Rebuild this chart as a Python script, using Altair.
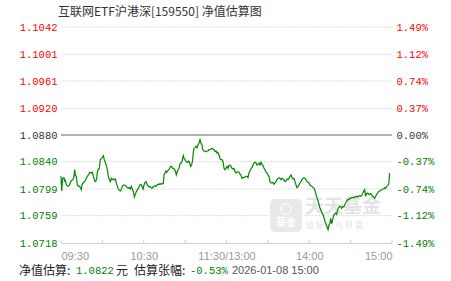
import altair as alt
import pandas as pd

# ---------------- data ----------------
minutes = [
    0, 0.5, 1.2, 2.2, 2.7, 3.1, 3.9, 5.1, 6.3, 7.0,
    8.0, 8.7, 9.4, 9.9, 10.4, 11.1, 11.8, 12.8, 13.5, 14.3,
    14.7, 15.2, 16.0, 17.2, 18.4, 19.1, 20.1, 20.8, 22.0, 22.7,
    23.5, 24.4, 25.1, 25.9, 26.4, 27.1, 27.8, 28.5, 29.3, 30.0,
    30.7, 31.4, 32.2, 32.9, 33.6, 34.3, 35.1, 35.8, 36.5, 37.2,
    38.0, 38.7, 39.4, 40.1, 40.9, 41.6, 42.3, 43.0, 43.8, 44.5,
    45.2, 45.9, 46.7, 47.4, 48.1, 48.8, 49.6, 50.3, 51.0, 51.7,
    52.5, 53.2, 53.9, 54.6, 55.4, 56.1, 56.8,
    57.3, 58.0, 58.7, 59.5, 60.2, 60.9, 61.6, 62.4, 63.1, 63.8,
    64.5, 65.3, 66.0, 66.7, 67.4, 68.2, 68.9, 69.6, 70.3, 71.1,
    71.8, 72.5, 73.2, 74.2, 74.7, 75.4, 76.1, 76.6, 77.3, 78.1,
    78.8, 79.5, 80.2, 81.0, 81.7, 82.4, 83.1, 83.6, 84.1, 84.8,
    85.6, 86.3, 87.0, 87.7, 88.2, 88.7, 89.2, 89.7, 90.4, 91.1,
    91.8, 92.6, 93.3, 94.0, 94.7, 95.5, 96.0, 96.4, 97.2, 97.9,
    98.6, 99.3, 100.1, 100.8, 101.5, 102.2, 102.7, 103.4, 104.4, 105.1,
    105.9, 106.6, 107.3, 108.0, 108.8, 109.5, 110.2, 110.9, 111.7, 112.4,
    113.1, 113.8, 114.6, 115.3, 116.0,
    116.7, 117.5, 118.2, 118.9, 119.6, 120.4, 121.1, 121.8, 122.5, 123.3,
    124.0, 124.7, 125.4, 126.2, 126.9, 127.6, 128.3, 129.1, 129.8, 130.5,
    131.2, 132.0, 132.7, 133.4, 134.1, 134.9, 135.6, 136.3, 137.0, 137.8,
    138.5, 139.2, 139.9, 140.7, 141.4, 142.1, 142.8, 143.6, 144.3, 145.0,
    145.7, 146.5, 147.2, 147.9, 148.6, 149.4, 150.1, 150.8, 151.5, 152.3,
    153.0, 153.7, 154.4, 155.2, 155.9, 156.6, 157.3, 158.1, 158.8, 159.5,
    160.2, 161.0, 161.7, 162.4, 163.1, 163.9, 164.6, 165.3, 166.0, 166.8,
    167.5, 168.2, 168.9, 169.7, 170.4, 171.1, 171.8, 172.6, 173.3, 174.0,
    174.7, 175.5,
    176.2, 176.9, 177.6, 178.4, 179.1, 179.8, 180.5, 181.3, 182.0, 182.7,
    183.5, 184.2, 184.9, 185.6, 186.4, 187.1, 187.8, 188.5, 189.3, 190.0,
    190.7, 191.4, 192.2, 192.9, 193.6, 194.3, 195.1, 195.5, 196.3, 197.0,
    197.7, 198.4, 199.2, 199.9, 200.6, 201.3, 202.1, 202.8, 203.5, 204.2,
    205.0, 205.7, 206.4, 207.1, 207.9, 208.6, 209.3, 210.0, 210.8, 211.5,
    212.2, 212.9, 213.7, 214.4, 215.1, 215.8, 216.6, 217.3, 218.0, 218.7,
    219.5, 220.2, 220.9, 221.6, 222.4, 223.1, 223.8, 224.5, 225.3, 226.0,
    226.7, 227.4, 228.2, 228.9, 229.6, 230.3, 231.1, 231.8, 232.5, 233.2,
    234.0, 234.7, 235.4, 236.1, 236.9, 237.6, 238.3,
]
nav = [
    1.0818, 1.0796, 1.0815, 1.0816, 1.0810, 1.0813, 1.0805, 1.0803, 1.0805, 1.0810,
    1.0812, 1.0813, 1.0817, 1.0828, 1.0820, 1.0818, 1.0805, 1.0803, 1.0803, 1.0800,
    1.0798, 1.0805, 1.0808, 1.0810, 1.0815, 1.0818, 1.0821, 1.0824, 1.0823, 1.0824,
    1.0818, 1.0811, 1.0810, 1.0815, 1.0825, 1.0829, 1.0830, 1.0843, 1.0845, 1.0846,
    1.0849, 1.0843, 1.0838, 1.0834, 1.0828, 1.0818, 1.0813, 1.0810, 1.0815, 1.0813,
    1.0814, 1.0813, 1.0814, 1.0808, 1.0803, 1.0799, 1.0797, 1.0796, 1.0799, 1.0803,
    1.0805, 1.0805, 1.0804, 1.0803, 1.0801, 1.0800, 1.0801, 1.0799, 1.0803, 1.0799,
    1.0795, 1.0787, 1.0791, 1.0795, 1.0798, 1.0800, 1.0803,
    1.0805, 1.0806, 1.0803, 1.0799, 1.0805, 1.0809, 1.0810, 1.0806, 1.0804, 1.0802,
    1.0803, 1.0801, 1.0800, 1.0802, 1.0803, 1.0804, 1.0803, 1.0805, 1.0806, 1.0806,
    1.0807, 1.0806, 1.0807, 1.0807, 1.0820, 1.0823, 1.0826, 1.0824, 1.0826, 1.0828,
    1.0830, 1.0833, 1.0833, 1.0830, 1.0830, 1.0828, 1.0825, 1.0820, 1.0823, 1.0828,
    1.0830, 1.0837, 1.0838, 1.0840, 1.0845, 1.0849, 1.0845, 1.0844, 1.0841, 1.0840,
    1.0839, 1.0841, 1.0838, 1.0833, 1.0835, 1.0843, 1.0855, 1.0860, 1.0861, 1.0863,
    1.0861, 1.0865, 1.0868, 1.0873, 1.0868, 1.0865, 1.0859, 1.0856, 1.0856, 1.0855,
    1.0856, 1.0856, 1.0858, 1.0858, 1.0859, 1.0860, 1.0859, 1.0858, 1.0855, 1.0856,
    1.0853, 1.0854, 1.0850, 1.0844, 1.0843,
    1.0843, 1.0840, 1.0830, 1.0828, 1.0830, 1.0833, 1.0830, 1.0834, 1.0835, 1.0833,
    1.0830, 1.0829, 1.0830, 1.0825, 1.0823, 1.0824, 1.0825, 1.0824, 1.0821, 1.0820,
    1.0815, 1.0816, 1.0816, 1.0817, 1.0818, 1.0818, 1.0816, 1.0823, 1.0826, 1.0830,
    1.0831, 1.0835, 1.0838, 1.0839, 1.0838, 1.0835, 1.0836, 1.0838, 1.0835, 1.0839,
    1.0836, 1.0834, 1.0830, 1.0828, 1.0825, 1.0823, 1.0820, 1.0818, 1.0810, 1.0808,
    1.0808, 1.0809, 1.0806, 1.0808, 1.0810, 1.0813, 1.0815, 1.0816, 1.0815, 1.0813,
    1.0815, 1.0814, 1.0813, 1.0810, 1.0811, 1.0814, 1.0813, 1.0815, 1.0818, 1.0820,
    1.0816, 1.0814, 1.0815, 1.0810, 1.0805, 1.0801, 1.0803, 1.0805, 1.0808, 1.0810,
    1.0813, 1.0815,
    1.0816, 1.0815, 1.0813, 1.0810, 1.0809, 1.0808, 1.0805, 1.0804, 1.0803, 1.0801,
    1.0800, 1.0796, 1.0791, 1.0786, 1.0781, 1.0776, 1.0770, 1.0767, 1.0763, 1.0761,
    1.0756, 1.0750, 1.0746, 1.0742, 1.0738, 1.0745, 1.0748, 1.0755, 1.0747, 1.0753,
    1.0760, 1.0761, 1.0763, 1.0761, 1.0768, 1.0771, 1.0773, 1.0772, 1.0770, 1.0773,
    1.0772, 1.0775, 1.0778, 1.0781, 1.0783, 1.0783, 1.0785, 1.0785, 1.0786, 1.0786,
    1.0787, 1.0786, 1.0788, 1.0788, 1.0787, 1.0788, 1.0789, 1.0788, 1.0789, 1.0792,
    1.0796, 1.0798, 1.0788, 1.0792, 1.0793, 1.0791, 1.0791, 1.0792, 1.0790, 1.0788,
    1.0787, 1.0785, 1.0788, 1.0791, 1.0793, 1.0795, 1.0796, 1.0797, 1.0798, 1.0799,
    1.0799, 1.0801, 1.0800, 1.0803, 1.0804, 1.0806, 1.0823,
]

nav_ticks = [1.0718, 1.0759, 1.0799, 1.0840, 1.0880, 1.0920, 1.0961, 1.1001, 1.1042]
pct_labels = ["-1.49%", "-1.12%", "-0.74%", "-0.37%", "0.00%", "0.37%", "0.74%", "1.12%", "1.49%"]
time_ticks = [0, 30, 60, 90, 120, 150, 180, 210, 240]
time_labels = ["09:30", "", "10:30", "", "11:30/13:00", "", "14:00", "", "15:00"]
base_nav = 1.0880

title_text = "互联网ETF沪港深[159550] 净值估算图"
foot_label1 = "净值估算:"
foot_nav = "1.0822"
foot_unit = "元"
foot_label2 = "估算张幅:"
foot_pct = "-0.53%"
foot_stamp = "2026-01-08  15:00"

# ---------------- layout ----------------
W, H = 331, 216
PAD = {"left": 61, "top": 27, "right": 59, "bottom": 38}
GREEN = "#008800"
ydom = [nav_ticks[0], nav_ticks[-1]]


def js_arr(xs):
    return "[" + ",".join(repr(x) if not isinstance(x, str) else "'" + x + "'" for x in xs) + "]"


color_expr = (
    f"datum.value > {base_nav + 0.00005} ? '#ff0000' : "
    f"(datum.value < {base_nav - 0.00005} ? '#008000' : '#333333')"
)
pct_expr = f"{js_arr(pct_labels)}[indexof({js_arr(nav_ticks)}, datum.value)]"
time_expr = f"{js_arr(time_labels)}[indexof({js_arr(time_ticks)}, datum.value)]"

x_axis = alt.Axis(
    values=time_ticks, labelExpr=time_expr, ticks=False, grid=False, title=None,
    domainColor="#c5d2de", domainWidth=1, labelColor="#999999",
    labelFont="Liberation Sans", labelFontSize=11, labelFlush=True,
    labelOverlap=False, labelPadding=7,
)
x_scale = alt.Scale(domain=[0, 240], nice=False, zero=False)
y_scale = alt.Scale(domain=ydom, nice=False, zero=False)

line_df = pd.DataFrame({"t": minutes, "nav": nav})
grid_df = pd.DataFrame({"v": nav_ticks[1:]})
tick_df = pd.DataFrame({"t": time_ticks})

grid = alt.Chart(grid_df).mark_rule().encode(
    y=alt.Y("v:Q", scale=y_scale, axis=alt.Axis(
        orient="right", values=nav_ticks, labelExpr=pct_expr,
        labelColor=alt.ExprRef(expr=color_expr), labelFont="Liberation Mono",
        labelFontSize=10.5, labelPadding=4, domain=False, ticks=False,
        grid=False, title=None)),
    color=alt.condition(alt.datum.v == base_nav, alt.value("#999999"), alt.value("#dddddd")),
    strokeDash=alt.condition(alt.datum.v == base_nav, alt.value([1, 0]), alt.value([2, 1])),
    strokeWidth=alt.condition(alt.datum.v == base_nav, alt.value(1.5), alt.value(1)),
)

one = pd.DataFrame({"s": [""]})


def txt(s, x, y, font, size, color, weight="normal", align="left"):
    return alt.Chart(pd.DataFrame({"s": [s]})).mark_text(
        align=align, baseline="middle", font=font, fontSize=size,
        color=color, fontWeight=weight,
    ).encode(x=alt.value(x), y=alt.value(y), text="s:N")


wm_rect = alt.Chart(one).mark_rect(color="#e9e9e9", cornerRadius=5).encode(
    x=alt.value(209), x2=alt.value(241), y=alt.value(172), y2=alt.value(205)
)
wm_circle = alt.Chart(one).mark_point(shape="circle", size=110, color="#ffffff", filled=False, strokeWidth=1.5).encode(
    x=alt.value(225), y=alt.value(182)
)
wm_logo = txt("基金", 225, 196, "Noto Sans CJK SC", 10, "#ffffff", "bold", "center")
wm_big = txt("天天基金", 244, 180, "Noto Sans CJK SC", 19, "#e4e4e4", "bold")
wm_small = txt("链 接 您 与 财 富", 245, 199, "Noto Sans CJK SC", 8, "#e4e4e4")

line = alt.Chart(line_df).mark_line(color=GREEN, strokeWidth=1.2, interpolate="linear").encode(
    x=alt.X("t:Q", scale=x_scale, axis=x_axis),
    y=alt.Y("nav:Q", scale=y_scale, axis=alt.Axis(
        orient="left", values=nav_ticks, format=".4f",
        labelColor=alt.ExprRef(expr=color_expr), labelFont="Liberation Mono",
        labelFontSize=10.5, labelPadding=4, domain=False, ticks=False,
        grid=False, title=None)),
)

ticks = alt.Chart(tick_df).mark_rule(color="#c5d2de").encode(
    x=alt.X("t:Q", scale=x_scale, axis=x_axis),
    y=alt.value(H - 3), y2=alt.value(H),
)

title = txt(title_text, -3, -15, "Noto Sans CJK SC", 12, "#333333")

fy = 244
f1 = txt(foot_label1, 19 - 61, fy, "Noto Sans CJK SC", 12, "#222222")
f2 = txt(foot_nav, 76 - 61, fy, "Liberation Mono", 10.5, "#008000")
f3 = txt(foot_unit, 116 - 61, fy, "Noto Sans CJK SC", 12, "#222222")
f4 = txt(foot_label2, 134 - 61, fy, "Noto Sans CJK SC", 12, "#222222")
f5 = txt(foot_pct, 190 - 61, fy, "Liberation Mono", 10.5, "#008000")
f6 = txt(foot_stamp, 232 - 61, fy, "Liberation Sans", 11, "#555555")

chart = alt.layer(
    grid, wm_rect, wm_circle, wm_logo, wm_big, wm_small, line, ticks,
    title, f1, f2, f3, f4, f5, f6,
).resolve_scale(y="independent").properties(
    width=W, height=H,
    autosize=alt.AutoSizeParams(type="none"),
    padding=PAD,
    background="#ffffff",
).configure_view(stroke=None)

chart.save("out.html", embed_options={"renderer": "svg", "actions": False})
